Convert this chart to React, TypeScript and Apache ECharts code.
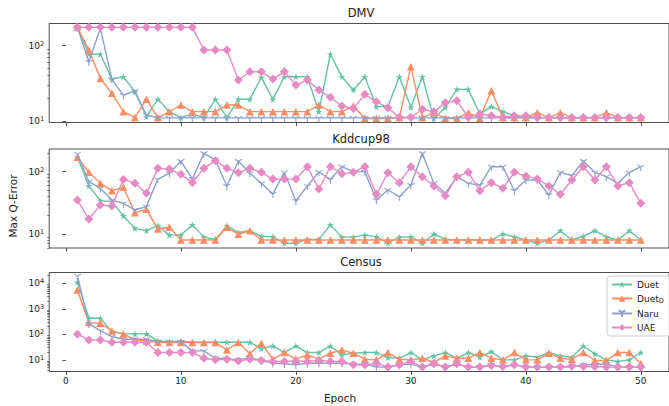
import React, { useEffect, useRef } from "react";
import * as echarts from "echarts";

// ---------- data ----------
const epochs = [1,2,3,4,5,6,7,8,9,10,11,12,13,14,15,16,17,18,19,20,21,22,23,24,25,26,27,28,29,30,31,32,33,34,35,36,37,38,39,40,41,42,43,44,45,46,47,48,49,50];

const seriesNames = ["Duet", "Duet_D", "Naru", "UAE"];
const panelTitles = ["DMV", "Kddcup98", "Census"];
const xTickValues = [0, 10, 20, 30, 40, 50];

// DMV
const dmvDuet = [175,77,77,36,38.7,24.5,11.4,19.4,13.3,11.1,12.4,11.1,19.4,11.1,19.4,19.4,38,19.4,38.7,38.7,38.7,13.3,77,38.7,25.8,38.7,15.5,15.5,38.7,15.2,38.7,10.8,15.2,26.3,26.3,12.4,15.5,13.3,11.7,11.1,11.1,11.1,11.1,11.1,11.1,11.1,11.1,11.1,11.1,11.1];
const dmvDuetD = [175,87.5,36.8,23.3,13.3,11.1,19.4,11.1,13.3,16.3,13.3,13.3,13.3,16.3,16.3,13.3,13.3,13.3,13.3,13.3,13.3,16.3,13.3,13.3,15.8,10.8,10.8,10.8,11.1,52.6,11.1,12.9,10.8,10.8,12.9,10.8,25.3,11.1,11.1,11.1,12.9,11.1,12.9,11.1,11.1,11.1,12.9,11.1,11.1,11.1];
const dmvNaru = [175,61,170,36,22,25,12,11,11,11,11,11,11,11,11,11,11,11,11,11,11,11,11,11,11,11,11,11,11,11,11,11,11,11,11,11,11,11,11,11,11,11,11,11,11,11,11,11,11,11];
const dmvUAE = [175,175,175,175,175,175,175,175,175,175,175,87.5,87.5,87.5,35,45,45,36,45,30,35,25.8,20.6,15.8,14.7,22.6,18,15,11.2,11.2,14.3,13.3,17.5,18.6,11.2,12.4,11.7,11.2,11.7,11.7,11.1,11.1,11.1,11.1,11.1,11.1,11.1,11.1,11.1,11.1];

// Kddcup98
const kddDuet = [170,59,34.3,33,19.5,12.3,11.3,13.6,9.6,9.6,14,8.9,8.2,13.5,10.6,11.3,9.2,9.0,7.1,7.1,8.2,8.2,14,8.9,8.9,9.6,9,7.2,8.9,9,7.1,10,8.2,8,8,8,8,10,9,8,7.1,8,11.3,8,9.2,11.3,9,8,11.3,8];
const kddDuetD = [170,97.5,65,49.5,56,22,24.9,12,12.8,8,8,8,8,12.8,9.9,11.3,8,8,8,8,8,8,8,8,8,8,8,8,8,8,8,8,8,8,8,8,8,8,8,8,8,8,8,8,8,8,8,8,8,8];
const kddNaru = [192,69,54,35,31,24.3,27.5,76,94,148,76,197,154,59,148,94,65,44,97.5,33.8,59,98.8,75,120,100,100,35,50.8,39.7,61,197,65,44.9,83,65,61,120,120,49.5,73.5,73.5,42.3,97.5,86.3,148,97.5,83,65,97.5,120];
const kddUAE = [35,17.4,29.2,28.2,75,65,44.9,113,110,90.6,66.6,113,150,113,96.4,113,97.5,76,76,76,120,52.7,120,93,97.5,120,43.3,96,66.6,120,83,59,41.2,83,97.5,49.5,66.6,54,97.5,85,76,59,43.3,73.5,120,73.5,120,59,66.6,31];

// Census
const censusDuet = [11000,427,427,128,104,104,104,55,52,55,49,49,49,49,49,49,27.7,35,19.4,35,19.4,19.4,35,15.7,18.2,19.4,19.4,12.3,11.6,19.4,10,14.3,19.4,11.6,19.4,12.7,21.2,10,10,14.3,12.7,19.4,14.3,12.7,35,17.2,10,8.6,10,19.4];
const censusDuetD = [5470,288,272,136,104,60.5,55,47.6,47.6,47.6,47.6,47.6,47.6,24.6,47.6,17.2,45,10.6,19.4,10.6,15.7,10.6,18.2,24.6,18.2,10.6,10,19.4,10.6,10,11.6,7.9,14.3,11.6,11.6,19.4,11.6,10,19.4,10,10,18.2,11.6,10.6,19.4,9.4,9.4,19.4,19.4,7];
const censusNaru = [19300,256,140,82,64,64,64,52,52,52,22.5,22.5,11.6,11,10,12.3,9.4,7.4,7,6.4,7.4,7.4,7.4,7.4,6.8,6.8,5.2,5.2,6.4,6.8,5.2,6.8,5.2,6.8,5.2,5.2,6.4,5.2,6.4,5.2,5.2,5.2,5.2,5.2,6.4,6.4,7,5.2,5.2,5.2];
const censusUAE = [101,60.5,60.5,49,49,49,49,19.4,19.4,19.4,19.4,11.6,10,10.6,9.1,10.6,9.4,8.6,8.6,9.1,8.6,9.4,8.6,8.6,6.4,6.4,7.4,5.2,6.4,8.6,5.2,7.4,5.2,7,5.2,5.2,6,5.5,6.4,5.2,5.2,5.2,5.2,5.8,5.5,5.5,5.2,5.2,5.2,5.2];

const yMajorTicks = [[10, 100], [10, 100], [10, 100, 1000, 10000]];
const yMinorTicks = [
  [20,30,40,50,60,70,80,90,200],
  [6,7,8,9,20,30,40,50,60,70,80,90,200],
  [4,5,6,7,8,9,20,30,40,50,60,70,80,90,200,300,400,500,600,700,800,900,2000,3000,4000,5000,6000,7000,8000,9000,20000],
];
const yRanges = [[9.55, 197], [5.96, 231], [3.5, 26500]];

// ---------- styling ----------
const FONT = "DejaVu Sans";
const COLORS = ["#66c2a5", "#fc8d62", "#8da0cb", "#e78ac3"];
const STAR = "path://M0,-10L2.245,-3.09L9.511,-3.09L3.633,1.18L5.878,8.09L0,3.82L-5.878,8.09L-3.633,1.18L-9.511,-3.09L-2.245,-3.09Z";
const TRI_DOWN = "path://M0,0L0,10M0,0L-8.66,-5M0,0L8.66,-5";
const SYMBOLS = [STAR, "triangle", TRI_DOWN, "diamond"];
const SYMBOL_SIZES: any[] = [[7, 7], [8, 7.5], [7, 6], [9, 9]];

const GRID_LEFT = 49.2;
const GRID_WIDTH = 624.2;
const GRID_TOPS = [23.5, 149, 272.5];
const GRID_HEIGHT = 99;

const panelData = [
  [dmvDuet, dmvDuetD, dmvNaru, dmvUAE],
  [kddDuet, kddDuetD, kddNaru, kddUAE],
  [censusDuet, censusDuetD, censusNaru, censusUAE],
];

function buildOption() {
  const grid: any[] = [];
  const xAxis: any[] = [];
  const yAxis: any[] = [];
  const series: any[] = [];

  for (let p = 0; p < 3; p++) {
    grid.push({
      left: GRID_LEFT,
      top: GRID_TOPS[p],
      width: GRID_WIDTH,
      height: GRID_HEIGHT,
      show: true,
      borderColor: "#222",
      borderWidth: 0.8,
      backgroundColor: "transparent",
      containLabel: false,
    });
    xAxis.push({
      type: "value",
      gridIndex: p,
      min: -1.45,
      max: 52.45,
      axisLine: { show: false },
      splitLine: { show: false },
      axisTick: {
        show: true,
        length: 3.5,
        customValues: xTickValues,
        lineStyle: { color: "#222", width: 0.8 },
      },
      axisLabel: {
        show: p === 2,
        customValues: xTickValues,
        fontFamily: FONT,
        fontSize: 9,
        color: "#222",
        margin: 5,
      },
    });
    // major y axis
    yAxis.push({
      type: "log",
      logBase: 10,
      gridIndex: p,
      min: yRanges[p][0],
      max: yRanges[p][1],
      position: "left",
      axisLine: { show: false },
      splitLine: { show: false },
      minorTick: { show: false },
      axisTick: {
        show: true,
        length: 3.5,
        customValues: yMajorTicks[p],
        lineStyle: { color: "#222", width: 0.8 },
      },
      axisLabel: {
        show: true,
        customValues: yMajorTicks[p],
        formatter: (v: number) => "10{sup|" + Math.round(Math.log10(v)) + "}",
        fontFamily: FONT,
        fontSize: 9,
        color: "#222",
        margin: 5,
        rich: {
          sup: { fontFamily: FONT, fontSize: 6.5, color: "#222", verticalAlign: "top", padding: [0, 0, 4, 0] },
        },
      },
    });
    // minor y ticks
    yAxis.push({
      type: "log",
      logBase: 10,
      gridIndex: p,
      min: yRanges[p][0],
      max: yRanges[p][1],
      position: "left",
      offset: 0,
      axisLine: { show: false },
      splitLine: { show: false },
      minorTick: { show: false },
      axisTick: {
        show: true,
        length: 2,
        customValues: yMinorTicks[p],
        lineStyle: { color: "#222", width: 0.6 },
      },
      axisLabel: { show: false },
    });

    for (let s = 0; s < 4; s++) {
      const vals = panelData[p][s];
      series.push({
        name: seriesNames[s],
        type: "line",
        xAxisIndex: p,
        yAxisIndex: p * 2,
        data: epochs.map((e, i) => [e, vals[i]]),
        symbol: SYMBOLS[s],
        symbolSize: SYMBOL_SIZES[s],
        symbolOffset: s === 2 ? [0, 1.2] : [0, 0],
        showSymbol: true,
        showAllSymbol: true,
        clip: true,
        lineStyle: { color: COLORS[s], width: 1.4 },
        itemStyle: {
          color: COLORS[s],
          borderColor: COLORS[s],
          borderWidth: s === 2 ? 1 : 0,
          opacity: 1,
        },
        emphasis: { disabled: true },
        z: 2 + s,
      });
    }
  }

  const graphic: any[] = [
    { type: "text", x: 361, y: 12.5, style: { text: panelTitles[0], font: `11.5px "${FONT}"`, fill: "#222", textAlign: "center", textVerticalAlign: "middle" } },
    { type: "text", x: 361, y: 138.5, style: { text: panelTitles[1], font: `11.5px "${FONT}"`, fill: "#222", textAlign: "center", textVerticalAlign: "middle" } },
    { type: "text", x: 361, y: 261.5, style: { text: panelTitles[2], font: `11.5px "${FONT}"`, fill: "#222", textAlign: "center", textVerticalAlign: "middle" } },
    { type: "text", x: 340, y: 398, style: { text: "Epoch", font: `10.5px "${FONT}"`, fill: "#222", textAlign: "center", textVerticalAlign: "middle" } },
    { type: "text", x: 12.5, y: 206, rotation: Math.PI / 2, style: { text: "Max Q-Error", font: `10.5px "${FONT}"`, fill: "#222", textAlign: "center", textVerticalAlign: "middle" } },
  ];

  return {
    animation: false,
    backgroundColor: "#fff",
    textStyle: { fontFamily: FONT },
    grid,
    xAxis,
    yAxis,
    series,
    graphic,
    legend: {
      data: seriesNames,
      orient: "vertical",
      left: 607,
      top: 276,
      selectedMode: false,
      backgroundColor: "rgba(255,255,255,0.8)",
      borderColor: "#cccccc",
      borderWidth: 1,
      borderRadius: 3,
      padding: [4, 8, 4, 4],
      itemGap: 5,
      itemWidth: 20,
      itemHeight: 8,
      formatter: (n: string) => (n === "Duet_D" ? "Duet{sub|D}" : n),
      textStyle: {
        fontFamily: FONT,
        fontSize: 9,
        color: "#222",
        rich: {
          sub: { fontFamily: FONT, fontSize: 6.5, color: "#222", verticalAlign: "bottom", padding: [4, 0, 0, 0] },
        },
      },
    },
  };
}

export default function App() {
  const ref = useRef<HTMLDivElement>(null);
  useEffect(() => {
    if (!ref.current) return;
    const chart = echarts.init(ref.current, null, { renderer: "svg" });
    chart.setOption(buildOption() as any);
    return () => chart.dispose();
  }, []);
  return (
    <div
      ref={ref}
      style={{ position: "fixed", left: 0, top: 0, width: 669, height: 406 }}
    />
  );
}
